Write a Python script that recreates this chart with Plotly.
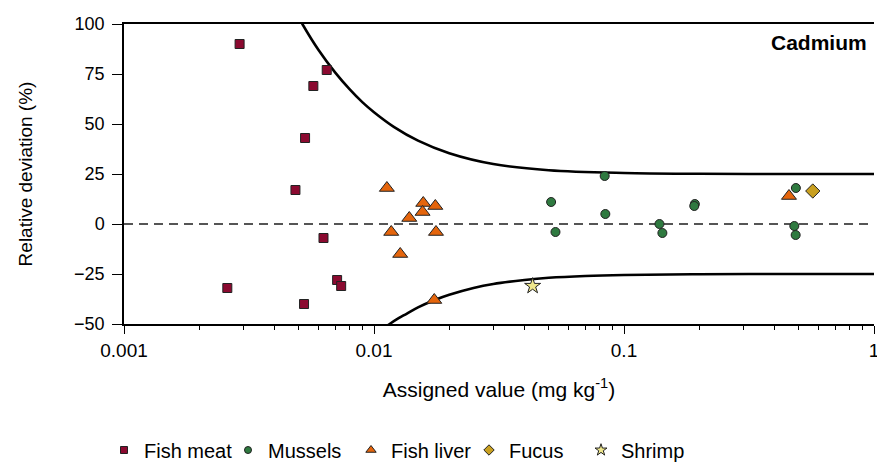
import plotly.graph_objects as go

# ---- data ----
fish_meat_x = [0.00290, 0.00259, 0.00485, 0.00647, 0.00572, 0.00530, 0.00628, 0.00712, 0.00739, 0.00525]
fish_meat_y = [90, -32, 17, 77, 69, 43, -7, -28, -31, -40]

mussels_x = [0.0511, 0.0532, 0.0837, 0.0842, 0.1386, 0.1424, 0.192, 0.191, 0.487, 0.480, 0.486]
mussels_y = [11, -4, 24, 5, 0, -4.5, 10, 9, 18, -1, -5.5]

fish_liver_x = [0.01126, 0.01574, 0.01759, 0.01564, 0.01384, 0.01172, 0.01770, 0.01273, 0.01742, 0.457]
fish_liver_y = [18, 10.5, 9, 6, 3, -4, -4, -15, -38, 14]

fucus_x = [0.569]
fucus_y = [16.5]

shrimp_x = [0.0431]
shrimp_y = [-31]

upper_x = [0.0045, 0.00517, 0.006, 0.007, 0.008, 0.009, 0.01, 0.012, 0.015, 0.02, 0.03, 0.05, 0.1, 0.2, 0.5, 1.0]
upper_y = [113.9, 100, 87.0, 75.7, 67.3, 60.8, 55.9, 48.6, 41.7, 35.4, 30.0, 26.9, 25.5, 25.1, 25.0, 25.0]
lower_x = [0.0105, 0.01155, 0.0125, 0.0135, 0.015, 0.0175, 0.02, 0.025, 0.03, 0.04, 0.05, 0.07, 0.1, 0.2, 0.5, 1.0]
lower_y = [-53.8, -50, -47.2, -44.9, -41.7, -38.0, -35.4, -32.0, -30.0, -28.0, -26.9, -26.0, -25.5, -25.1, -25.0, -25.0]

x_tickvals = [0.001, 0.01, 0.1, 1]
x_ticktext = ["0.001", "0.01", "0.1", "1"]
y_tickvals = [-50, -25, 0, 25, 50, 75, 100]

FONT = "Liberation Sans, Arial, Helvetica, sans-serif"

series = [
    ("Fish meat", fish_meat_x, fish_meat_y, "square", "#8B0A30", 9, 7, "legend"),
    ("Mussels", mussels_x, mussels_y, "circle", "#2F7A40", 9, 7, "legend2"),
    ("Fish liver", fish_liver_x, fish_liver_y, "triangle-up", "#E5650C", 13, 9, "legend3"),
    ("Fucus", fucus_x, fucus_y, "diamond", "#C9A020", 11, 8, "legend4"),
    ("Shrimp", shrimp_x, shrimp_y, "star", "#EEE68C", 12, 9, "legend5"),
]

fig = go.Figure()

fig.add_trace(go.Scatter(x=upper_x, y=upper_y, mode="lines", line=dict(color="black", width=2.6, shape="spline"),
                         showlegend=False, hoverinfo="skip"))
fig.add_trace(go.Scatter(x=lower_x, y=lower_y, mode="lines", line=dict(color="black", width=2.6, shape="spline"),
                         showlegend=False, hoverinfo="skip"))

for name, xs, ys, sym, col, size, lsize, lg in series:
    fig.add_trace(go.Scatter(x=xs, y=ys, mode="markers", name=name, showlegend=False,
                             marker=dict(symbol=sym, color=col, size=size, line=dict(color="#222", width=1))))
    fig.add_trace(go.Scatter(x=[None], y=[None], mode="markers", name=name, legend=lg,
                             marker=dict(symbol=sym, color=col, size=lsize, line=dict(color="#222", width=1))))

fig.add_shape(type="line", xref="paper", x0=0, x1=1, yref="y", y0=0, y1=0,
              line=dict(color="#555", width=1.8, dash="9px,6px"), layer="below")

fig.add_annotation(text="<b>Cadmium</b>", xref="paper", yref="paper", x=0.993, y=0.94,
                   xanchor="right", yanchor="middle", showarrow=False,
                   font=dict(family=FONT, size=21, color="black"))

minor_vals = []
for d in [0.001, 0.01, 0.1]:
    for k in range(2, 10):
        minor_vals.append(d * k)

fig.update_xaxes(type="log", range=[-3, 0], tickmode="array", tickvals=x_tickvals, ticktext=x_ticktext,
                 showline=True, linecolor="black", linewidth=1.5, mirror=True, automargin=False,
                 ticks="outside", ticklen=8, tickwidth=1.2, tickcolor="black", ticklabeloverflow="allow",
                 minor=dict(tickmode="array", tickvals=minor_vals, ticks="outside", ticklen=4, tickwidth=1, tickcolor="black"),
                 showgrid=False, zeroline=False,
                 tickfont=dict(family=FONT, size=19, color="black"),
                 title=dict(text="Assigned value (mg kg<sup>-1</sup>)", font=dict(family=FONT, size=21, color="black"), standoff=23))

fig.update_yaxes(range=[-50, 100], tickmode="array", tickvals=y_tickvals,
                 showline=True, linecolor="black", linewidth=1.5, mirror=False, automargin=False,
                 ticks="outside", ticklen=10, tickwidth=1.2, tickcolor="black", ticklabelstandoff=4,
                 showgrid=False, zeroline=False,
                 tickfont=dict(family=FONT, size=18, color="black"),
                 title=dict(text="Relative deviation (%)", font=dict(family=FONT, size=19, color="black"), standoff=36))

leg_common = dict(orientation="h", xref="container", yref="container", yanchor="middle", y=(463 - 450) / 463,
                  xanchor="left", bgcolor="rgba(0,0,0,0)",
                  font=dict(family=FONT, size=20, color="black"), borderwidth=0)
legend_px = [104, 228, 351, 469, 581]
legs = {}
for i, px in enumerate(legend_px):
    key = "legend" if i == 0 else f"legend{i+1}"
    legs[key] = dict(leg_common, x=px / 877)

fig.update_layout(width=877, height=463, paper_bgcolor="white", plot_bgcolor="white",
                  margin=dict(l=124, r=3, t=24, b=139), font=dict(family=FONT, color="black"),
                  **legs)

fig.write_html("out.html", config={"displayModeBar": False},
               post_script="document.body.style.margin='0';document.body.style.overflow='hidden';")
